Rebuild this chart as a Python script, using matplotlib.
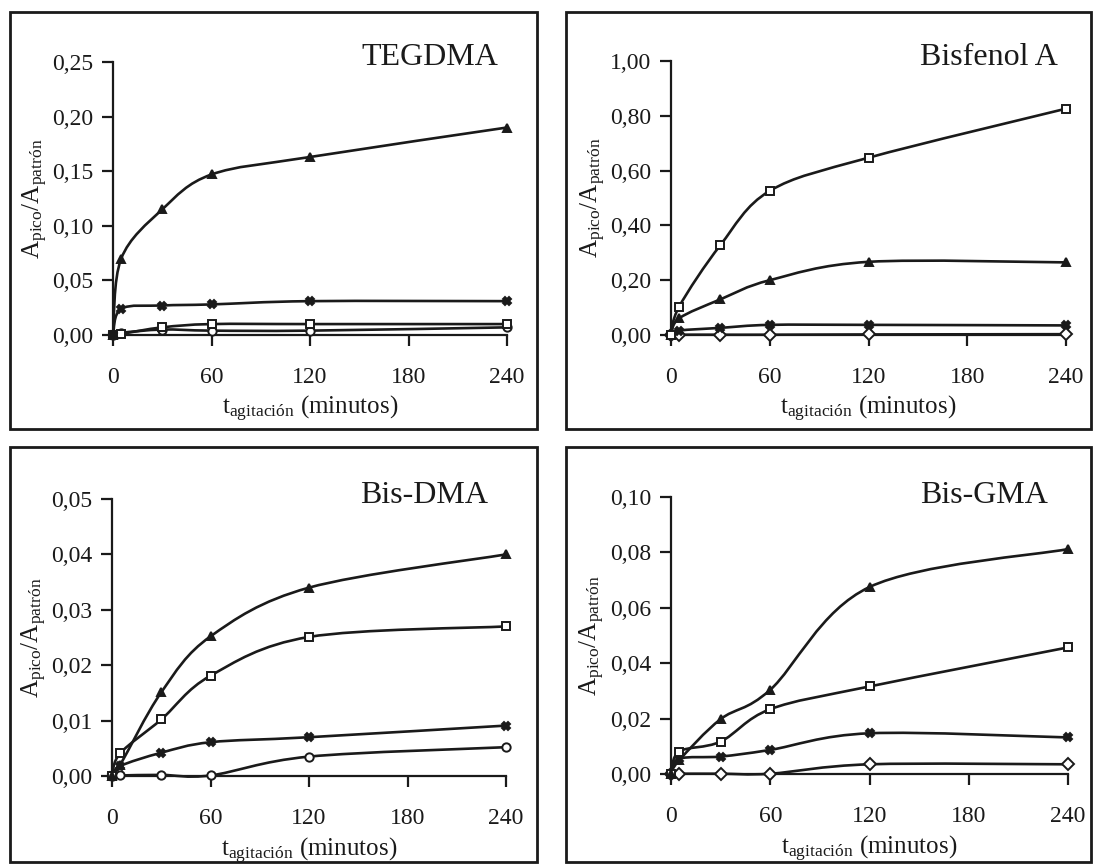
import numpy as np
import matplotlib
matplotlib.use("Agg")
import matplotlib.pyplot as plt
from matplotlib.path import Path
from matplotlib.patches import PathPatch, Rectangle

plt.rcParams['font.family'] = ['Liberation Serif', 'DejaVu Serif']
plt.rcParams['mathtext.fontset'] = 'custom'
plt.rcParams['mathtext.rm'] = 'Liberation Serif'
plt.rcParams['mathtext.it'] = 'Liberation Serif:italic'

# sampling times (minutes)
t = [0, 5, 30, 60, 120, 240]

# TEGDMA
teg_tri = [0.0, 0.070, 0.115, 0.147, 0.163, 0.190]
teg_ast = [0.0, 0.024, 0.027, 0.028, 0.031, 0.031]
teg_sq = [0.0, 0.001, 0.007, 0.010, 0.010, 0.010]
teg_circ = [0.0, 0.002, 0.005, 0.004, 0.004, 0.007]

# Bisfenol A
bpa_sq = [0.0, 0.104, 0.328, 0.526, 0.647, 0.826]
bpa_tri = [0.0, 0.061, 0.130, 0.200, 0.267, 0.265]
bpa_ast = [0.0, 0.016, 0.026, 0.037, 0.037, 0.035]
bpa_dia = [0.0, 0.001, 0.001, 0.001, 0.002, 0.003]

# Bis-DMA
dma_tri = [0.0, 0.002, 0.0151, 0.0252, 0.0340, 0.0400]
dma_sq = [0.0, 0.0041, 0.0102, 0.0181, 0.0251, 0.0270]
dma_ast = [0.0, 0.0018, 0.0042, 0.0061, 0.0070, 0.0091]
dma_circ = [0.0, 0.0001, 0.0002, 0.0001, 0.0035, 0.0052]

# Bis-GMA
gma_tri = [0.0, 0.0050, 0.0198, 0.0304, 0.0675, 0.0812]
gma_sq = [0.0, 0.0081, 0.0117, 0.0234, 0.0316, 0.0457]
gma_ast = [0.0, 0.0055, 0.0063, 0.0087, 0.0147, 0.0132]
gma_dia = [0.0, 0.0001, 0.0001, 0.0001, 0.0035, 0.0035]

W, H = 1094, 866


def smooth_path(x, y):
    # Excel-like smoothed line: cubic Bezier through every point
    p = np.column_stack([x, y]).astype(float)
    n = len(p)
    verts = [p[0]]
    codes = [Path.MOVETO]
    for i in range(n - 1):
        p0 = p[i - 1] if i > 0 else p[i]
        p3 = p[i + 2] if i + 2 < n else p[i + 1]
        c1 = p[i] + (p[i + 1] - p0) / 6.0
        c2 = p[i + 1] - (p3 - p[i]) / 6.0
        verts += [c1, c2, p[i + 1]]
        codes += [Path.CURVE4] * 3
    return Path(verts, codes)


def series(ax, y, marker, filled):
    patch = PathPatch(smooth_path(t, y), fill=False, lw=1.9, ec='#1a1a1a',
                      clip_on=False)
    ax.add_patch(patch)
    ax.plot(t, y, ls='none', marker=marker, ms=6,
            mfc='#1a1a1a' if filled else 'white', mec='#1a1a1a', mew=1.4,
            clip_on=False, zorder=3)


def panel(box, ymax, ystep, title, title_xy, data):
    x0, x1, y0, y1 = box
    ax = fig.add_axes([x0 / W, (H - y0) / H, (x1 - x0) / W, (y0 - y1) / H])
    ax.set_xlim(0, 240)
    ax.set_ylim(0, ymax)
    for s in ['top', 'right']:
        ax.spines[s].set_visible(False)
    for s in ['left', 'bottom']:
        ax.spines[s].set_linewidth(1.6)
        ax.spines[s].set_color('#1a1a1a')
    yt = np.arange(0, ymax + ystep / 2, ystep)
    ax.set_yticks(yt)
    ax.set_yticklabels([f"{v:.2f}".replace('.', ',') for v in yt])
    ax.set_xticks([0, 60, 120, 180, 240])
    ax.tick_params(axis='both', direction='out', length=8, width=1.6,
                   labelsize=17, color='#1a1a1a', labelcolor='#1a1a1a')
    ax.tick_params(axis='x', pad=15)
    ax.tick_params(axis='y', pad=6)
    ax.set_xlabel(r'$\mathrm{t_{agitación}}$ (minutos)', fontsize=18,
                  color='#1a1a1a')
    ax.xaxis.set_label_coords(0.5, -0.215)
    ax.set_ylabel(r'$\mathrm{A_{pico}/A_{patrón}}$', fontsize=18,
                  color='#1a1a1a')
    ax.yaxis.set_label_coords(-0.16, 0.5)
    ax.patch.set_alpha(0)
    for y, m, f in data:
        series(ax, y, m, f)
    fig.text(title_xy[0] / W, 1 - title_xy[1] / H, title, fontsize=23,
             ha='center', va='baseline', color='#1a1a1a')
    return ax


fig = plt.figure(figsize=(W / 100, H / 100), dpi=100)

for fx0, fx1, fy0, fy1 in [(10, 537, 12, 429), (566, 1091, 12, 429),
                           (10, 537, 447, 862), (566, 1091, 447, 862)]:
    fig.patches.append(Rectangle((fx0 / W, 1 - fy1 / H), (fx1 - fx0) / W,
                                 (fy1 - fy0) / H, transform=fig.transFigure,
                                 fill=False, lw=2, ec='#1a1a1a'))

panel((113, 507, 335, 62), 0.25, 0.05, 'TEGDMA', (430, 65),
      [(teg_circ, 'o', False), (teg_sq, 's', False),
       (teg_ast, 'X', True), (teg_tri, '^', True)])
panel((671, 1066, 335, 61), 1.0, 0.2, 'Bisfenol A', (989, 65),
      [(bpa_dia, 'D', False), (bpa_ast, 'X', True),
       (bpa_tri, '^', True), (bpa_sq, 's', False)])
panel((112, 506, 776, 499), 0.05, 0.01, 'Bis-DMA', (424, 503),
      [(dma_circ, 'o', False), (dma_ast, 'X', True),
       (dma_sq, 's', False), (dma_tri, '^', True)])
panel((671, 1068, 774, 497), 0.10, 0.02, 'Bis-GMA', (984, 503),
      [(gma_dia, 'D', False), (gma_ast, 'X', True),
       (gma_sq, 's', False), (gma_tri, '^', True)])

fig.savefig('out.png', dpi=100)
